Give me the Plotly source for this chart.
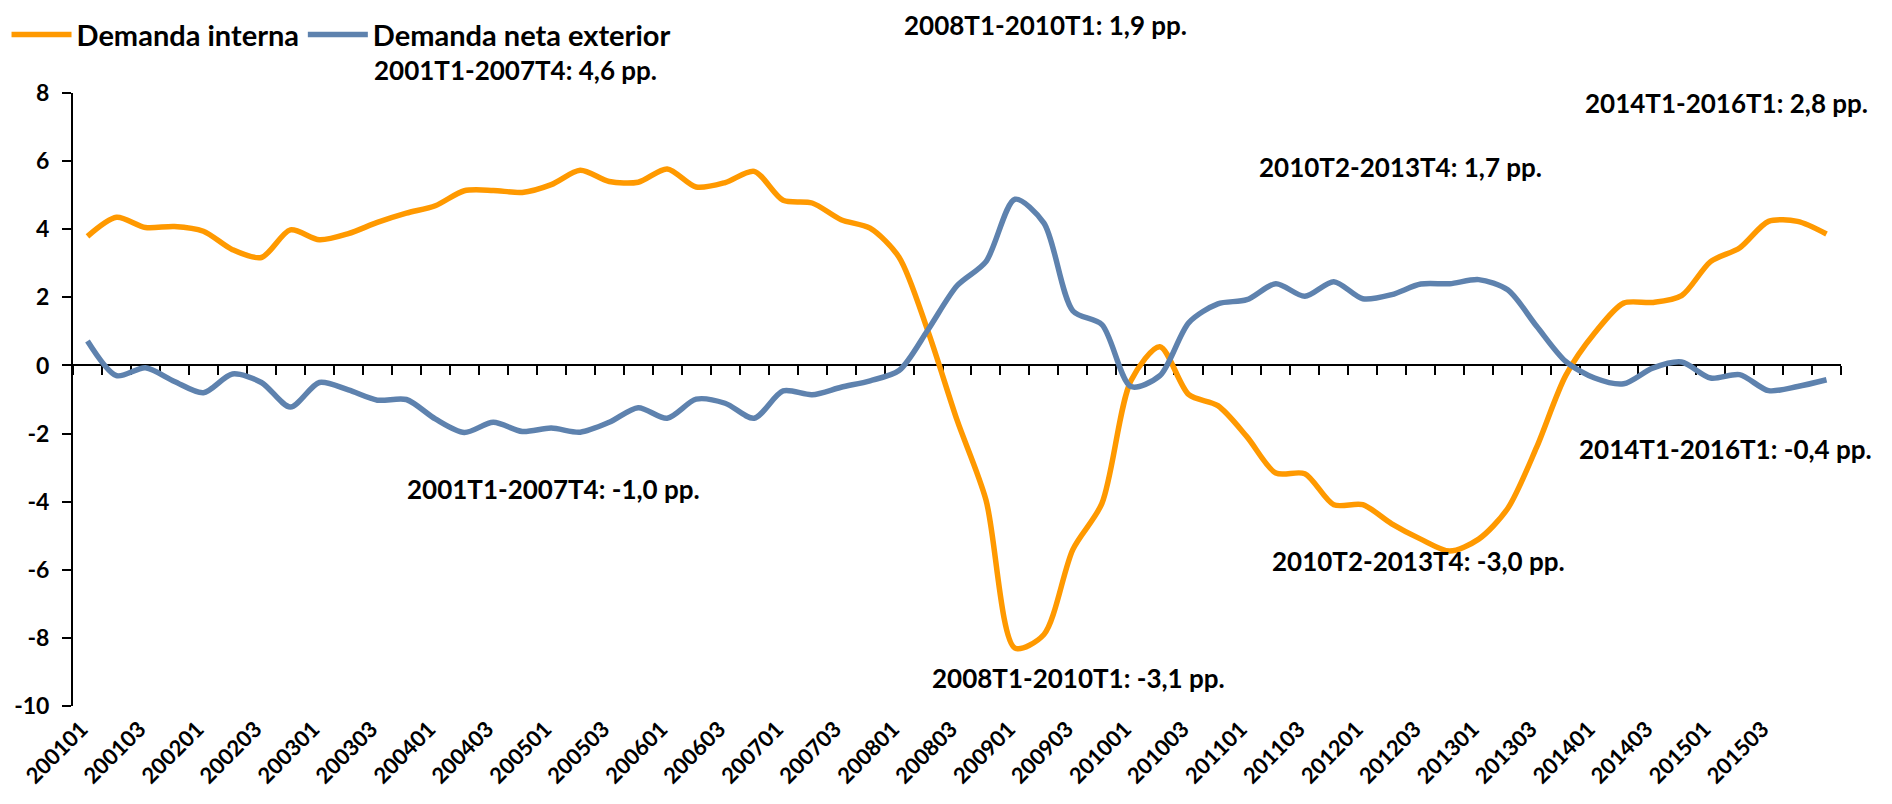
import plotly.graph_objects as go

# ---------------- data ----------------
periods = [
    "200101", "200102", "200103", "200104",
    "200201", "200202", "200203", "200204",
    "200301", "200302", "200303", "200304",
    "200401", "200402", "200403", "200404",
    "200501", "200502", "200503", "200504",
    "200601", "200602", "200603", "200604",
    "200701", "200702", "200703", "200704",
    "200801", "200802", "200803", "200804",
    "200901", "200902", "200903", "200904",
    "201001", "201002", "201003", "201004",
    "201101", "201102", "201103", "201104",
    "201201", "201202", "201203", "201204",
    "201301", "201302", "201303", "201304",
    "201401", "201402", "201403", "201404",
    "201501", "201502", "201503", "201504",
    "201601",
]

demanda_interna = [
    3.79, 4.35, 4.05, 4.08,
    3.94, 3.40, 3.17, 3.98,
    3.69, 3.87, 4.20, 4.47,
    4.69, 5.13, 5.14, 5.08,
    5.31, 5.73, 5.40, 5.38,
    5.77, 5.24, 5.37, 5.70,
    4.85, 4.77, 4.28, 4.03,
    3.18, 1.00, -1.60, -3.95,
    -8.30, -7.90, -5.40, -4.05,
    -0.45, 0.55, -0.86, -1.18,
    -2.09, -3.16, -3.18, -4.09,
    -4.09, -4.65, -5.10, -5.45,
    -5.10, -4.20, -2.40, -0.30,
    0.95, 1.83, 1.85, 2.05,
    3.05, 3.45, 4.23, 4.23,
    3.86,
]

demanda_neta_exterior = [
    0.72, -0.30, -0.07, -0.47,
    -0.80, -0.25, -0.50, -1.22,
    -0.50, -0.72, -1.02, -1.00,
    -1.57, -1.97, -1.67, -1.94,
    -1.84, -1.96, -1.67, -1.24,
    -1.55, -0.99, -1.11, -1.55,
    -0.75, -0.86, -0.64, -0.45,
    -0.15, 1.05, 2.34, 3.05,
    4.88, 4.18, 1.60, 1.20,
    -0.62, -0.30, 1.26, 1.81,
    1.93, 2.40, 2.03, 2.46,
    1.96, 2.08, 2.39, 2.40,
    2.52, 2.22, 1.15, 0.12,
    -0.37, -0.54, -0.08, 0.10,
    -0.37, -0.27, -0.74, -0.62,
    -0.42,
]

tick_labels = [
    "200101", "200103", "200201", "200203", "200301", "200303",
    "200401", "200403", "200501", "200503", "200601", "200603",
    "200701", "200703", "200801", "200803", "200901", "200903",
    "201001", "201003", "201101", "201103", "201201", "201203",
    "201301", "201303", "201401", "201403", "201501", "201503",
]

y_tick_values = [-10, -8, -6, -4, -2, 0, 2, 4, 6, 8]
y_tick_labels = ["-10", "-8", "-6", "-4", "-2", "0", "2", "4", "6", "8"]

series_names = ["Demanda interna", "Demanda neta exterior"]
series_colors = ["#FF9900", "#5E82AE"]

annotation_texts = [
    "2008T1-2010T1: 1,9 pp.",
    "2001T1-2007T4: 4,6 pp.",
    "2014T1-2016T1: 2,8 pp.",
    "2010T2-2013T4: 1,7 pp.",
    "2001T1-2007T4: -1,0 pp.",
    "2014T1-2016T1: -0,4 pp.",
    "2010T2-2013T4: -3,0 pp.",
    "2008T1-2010T1: -3,1 pp.",
]
# positions (paper coordinates) of the annotation text centres
annotation_x = [0.5500, 0.2501, 0.9350, 0.7506, 0.2716, 0.9344, 0.7608, 0.5685]
annotation_y = [1.1110, 1.0375, 0.9837, 0.8793, 0.3540, 0.4192, 0.2365, 0.0457]

y_range = [-10, 8]

# ---------------- figure ----------------
FONT = "Lato"
xs = list(range(len(periods)))

fig = go.Figure()
for name, vals, col, leg in zip(series_names, [demanda_interna, demanda_neta_exterior],
                                series_colors, ["legend", "legend2"]):
    fig.add_trace(go.Scatter(
        x=xs, y=vals, customdata=periods, name=name, mode="lines", legend=leg,
        line=dict(color=col, width=5.5, shape="spline", smoothing=0.8),
        hovertemplate="%{customdata}: %{y}<extra>" + name + "</extra>",
    ))

# empty trace so the zero-line category axis is drawn
fig.add_trace(go.Scatter(x=[], y=[], xaxis="x2", yaxis="y", showlegend=False, hoverinfo="skip"))

zero_pos = (0 - y_range[0]) / (y_range[1] - y_range[0])
x_range = [-0.5, len(periods) - 0.5]

for t, ax, ay in zip(annotation_texts, annotation_x, annotation_y):
    fig.add_annotation(text=t, x=ax, y=ay, xref="paper", yref="paper",
                       xanchor="center", yanchor="middle", showarrow=False,
                       font=dict(family=FONT, size=26, color="black", weight="bold"))

legend_style = dict(orientation="h", xanchor="left", y=1.095, yanchor="middle",
                    font=dict(family=FONT, size=29, color="black", weight="bold"),
                    bgcolor="rgba(0,0,0,0)", itemwidth=60)

# page body has an 8px margin: figure is drawn at (8, 8) in the window
fig.update_layout(
    width=1876, height=788,
    margin=dict(l=65, r=43, t=85, b=90, autoexpand=False),
    paper_bgcolor="white", plot_bgcolor="white",
    font=dict(family=FONT, color="black"),
    showlegend=True,
    legend=dict(x=-0.0376, **legend_style),
    legend2=dict(x=0.1300, **legend_style),
    xaxis=dict(
        range=x_range, tickmode="array",
        tickvals=[periods.index(t) for t in tick_labels], ticktext=tick_labels,
        tickangle=-45, showline=False, showgrid=False, zeroline=False, ticks="",
        tickfont=dict(family=FONT, size=22, color="black", weight="bold"),
        ticklabelstandoff=5, ticklabelshift=-6, automargin=False,
    ),
    xaxis2=dict(
        overlaying="x", anchor="free", position=zero_pos, range=x_range,
        tickmode="array", tickvals=[i - 0.5 for i in range(len(periods) + 1)],
        ticks="outside", ticklen=9, tickwidth=2, tickcolor="black",
        showline=True, linecolor="black", linewidth=2,
        showticklabels=False, showgrid=False, zeroline=False, layer="below traces",
    ),
    yaxis=dict(
        range=y_range, tickmode="array", tickvals=y_tick_values, ticktext=y_tick_labels,
        ticks="outside", ticklen=9, tickwidth=2, tickcolor="black",
        showline=True, linecolor="black", linewidth=2,
        showgrid=False, zeroline=False, layer="below traces",
        tickfont=dict(family=FONT, size=23, color="black", weight="bold"),
        ticklabelstandoff=8, automargin=False,
    ),
)

fig.write_html("out.html")
